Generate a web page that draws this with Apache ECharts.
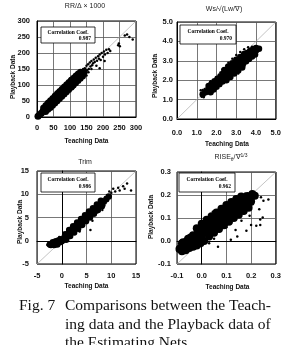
<!DOCTYPE html>
<html><head><meta charset="utf-8">
<script src="https://cdn.jsdelivr.net/npm/echarts@6/dist/echarts.min.js"></script>
<style>html,body{margin:0;padding:0;background:#fff}#c{width:284px;height:345px}</style>
</head><body><div id="c"></div>
<script>
// ---- text ----
const corrLabel = 'Correlation Coef.';
const corrValues = ['0.987', '0.970', '0.986', '0.962'];
const xName = 'Teaching Data';
const yName = 'Playback Data';
const captionLines = ['Comparisons between the Teach-', 'ing data and the Playback data of', 'the Estimating Nets'];
const captionLabel = 'Fig. 7';

// ---- tick values ----
const rrTicks = [0, 50, 100, 150, 200, 250, 300];
const wsTicks = [0, 1, 2, 3, 4, 5];
const trimTicks = [-5, 0, 5, 10, 15];
const riseTicks = [-0.1, 0, 0.1, 0.2, 0.3];

// ---- RR/Δ×1000 ----
const rrCore = [[3,2],[8,7],[13,12],[18,18],[23,22],[28,28],[33,32],[38,38],[43,43],[48,47],[53,53],[58,57],[63,63],[68,67],[73,73],[78,77],[83,83],[88,87],[93,93],[98,97],[103,103],[108,107],[113,113],[118,117],[123,122],[128,127],[133,131],[138,136],[143,141],
 [20,28],[27,36],[34,44],[41,51],[48,58],[55,66],[62,73],[69,80],[76,87],[83,94],[90,101],[97,108],[104,115],[111,121],[118,128],[125,134],[132,140],
 [26,17],[33,24],[40,30],[47,37],[54,44],[61,51],[68,58],[75,65],[82,72],[89,79],[96,86],[103,93],[110,100],[117,107],[124,114],[131,121],[138,128]];
const rrPoints = [[145,152],[148,138],[150,160],[152,146],[155,165],[157,150],[160,170],[162,158],[165,175],[167,162],[170,168],[172,180],[175,172],[178,185],[180,160],[182,176],[185,190],[188,182],[190,195],[193,178],[196,200],[200,188],[203,205],[206,195],[210,210],[214,200],[218,212],[222,206],[150,130],[156,140],[140,150],[135,146],[130,143],[120,130],[112,124],[165,150],[190,152],[205,175],[246,224],[248,230],[251,221],[266,255],[273,258],[290,242],[280,250],[60,80],[70,88],[80,98],[100,120],[110,90],[90,72],[40,24],[125,140]];

// ---- Ws/√(Lw/∇) ----
const wsCore = [[1.3,1.27],[1.45,1.38],[1.6,1.5],[1.75,1.62],[1.9,1.75],[2.05,1.88],[2.2,2.01],[2.35,2.15],[2.5,2.29],[2.65,2.42],[2.8,2.56],[2.95,2.7],[3.1,2.83],[3.25,2.96],[3.4,3.08],[3.55,3.2],[3.7,3.32],[3.85,3.43],[4.0,3.53],[4.15,3.62],
 [1.6,1.7],[1.75,1.82],[1.9,1.95],[2.05,2.08],[2.2,2.21],[2.35,2.35],[2.5,2.49],[2.65,2.62],[2.8,2.76],[2.95,2.9],[3.1,3.03],[3.25,3.16],[3.4,3.28],[3.55,3.4],[3.7,3.5],[3.85,3.6],[4.0,3.66],
 [1.7,1.38],[1.85,1.52],[2.0,1.66],[2.15,1.8],[2.3,1.93],[2.45,2.07],[2.6,2.2],[2.75,2.34],[2.9,2.48],[3.05,2.61],[3.2,2.74],[3.35,2.86],[3.5,2.98],[3.65,3.1],[3.8,3.22],[3.95,3.33],
 [2.4,2.52],[2.6,2.71],[2.8,2.88],[3.0,3.05],[3.2,3.2],[3.4,3.35],[2.5,2.0],[2.7,2.17],[2.9,2.34],[3.1,2.5],[3.3,2.66]];
const wsPoints = [[1.2,1.48],[1.3,1.5],[1.4,1.55],[1.5,1.6],[1.55,1.45],[1.25,1.15],[1.35,1.12],[1.7,1.95],[1.85,2.0],[2.0,2.15],[2.2,2.4],[2.3,2.55],[2.5,2.75],[2.6,2.9],[2.8,3.1],[3.0,3.3],[3.2,3.45],[3.4,3.6],[3.6,3.7],[3.8,3.72],[4.05,3.68],[4.2,3.64],[3.1,2.35],[3.4,2.7],[3.7,3.0],[2.2,1.7],[2.6,2.05],[1.9,1.5],[2.45,1.95],[3.9,3.25]];

// ---- Trim ----
const trimCore = [[-2.4,-0.8],[-2.0,-0.7],[-1.6,-0.6],[-1.2,-0.5],[-0.8,-0.4],[-0.4,-0.3],[0,-0.1],[-1.8,-0.3],[-1.2,-0.1],[-0.6,0.1],[-0.2,0.3],[-2.2,-0.9],[-1.5,-0.9],[-0.9,-0.8],[0.3,0.2],
 [0.5,0.5],[1,1.1],[1.5,1.6],[2,2.1],[2.5,2.6],[3,3.1],[3.5,3.6],[4,4.1],[4.5,4.6],[5,5.0],[5.5,5.5],[6,6.0],[6.5,6.5],[7,7.0],[7.5,7.4],[8,7.9],[8.5,8.4],[9,8.9],[9.5,9.5],
 [0.7,1.4],[1.5,2.3],[2.3,3.1],[3.1,3.9],[3.9,4.7],[4.7,5.5],[5.5,6.3],[6.3,7.0],[7.1,7.8],[7.9,8.6],
 [0.9,0.2],[1.7,1.0],[2.5,1.8],[3.3,2.6],[4.1,3.4],[4.9,4.2],[5.7,5.0],[6.5,5.8],[7.3,6.6],[8.1,7.4]];
const trimPoints = [[10.4,11.2],[11.4,11.4],[12.4,11.7],[12.7,11.2],[14,10.8],[11.7,10.8],[13.2,12.3],[10,10.3],[9.8,9.6],[9.2,9.8],[8.8,9.4],[8.6,7.6],[7.2,6.1],[5.8,2.3],[6.2,4.3],[3.6,2.0],[2.2,3.2],[1.3,2.5],[0.2,1.0],[-0.5,0.8],[-2.8,-0.7],[-2.6,-0.5],[-2.9,-0.9],[4.5,3.2],[7.8,8.9],[9.6,10.6],[10.8,10.6],[8.2,6.6]];

// ---- RISEθ/∇^1/3 ----
const riseCore = [[-0.085,-0.03],[-0.07,-0.02],[-0.055,-0.01],[-0.04,0.002],[-0.025,0.015],[-0.01,0.03],[0.005,0.044],[0.02,0.056],[0.035,0.068],[0.05,0.08],[0.065,0.092],[0.08,0.104],[0.095,0.116],[0.11,0.128],[0.125,0.14],[0.14,0.152],[0.155,0.163],[0.17,0.173],[0.185,0.182],[0.2,0.19],[0.215,0.197],
 [-0.075,-0.005],[-0.055,0.01],[-0.035,0.025],[-0.015,0.04],[0.005,0.064],[0.025,0.08],[0.045,0.096],[0.065,0.112],[0.085,0.128],[0.105,0.144],[0.125,0.16],[0.145,0.174],[0.165,0.186],[0.185,0.196],[0.205,0.204],
 [-0.08,-0.045],[-0.06,-0.033],[-0.04,-0.018],[-0.02,-0.005],[0,0.02],[0.02,0.036],[0.04,0.052],[0.06,0.068],[0.08,0.084],[0.1,0.1],[0.12,0.116],[0.14,0.132],[0.16,0.146],[0.18,0.16],[0.2,0.172],
 [-0.02,0.055],[0.0,0.075],[0.02,0.092],[0.04,0.108],[0.06,0.124],[0.08,0.14],[0.1,0.156],[0.12,0.17],[0.14,0.183],[0.16,0.194],
 [0.03,0.02],[0.05,0.036],[0.07,0.052],[0.09,0.068],[0.11,0.084],[0.13,0.1],[0.15,0.114],[0.17,0.13],[0.19,0.145],
 [-0.09,-0.035],[-0.08,-0.01],[-0.065,-0.04],[-0.05,-0.03],[-0.035,-0.025],[-0.02,-0.02],[-0.005,-0.01],[0.01,0.0],[-0.06,0.0],[-0.045,0.015]];
const risePoints = [[0.206,0.16],[0.233,0.138],[0.194,0.11],[0.247,0.102],[0.221,0.066],[0.148,0.138],[0.161,0.088],[0.181,0.045],[0.27,0.18],[0.237,0.093],[0.237,0.07],[0.2,0.07],[0.144,0.02],[0.137,0.048],[0.118,0.005],[0.066,-0.025],[0.045,0.127],[0.07,0.13],[0.09,0.155],[0.13,0.18],[0.16,0.2],[0.22,0.2],[0.24,0.19],[0.25,0.175],[0.1,0.06],[0.12,0.08],[0.17,0.12],[0.03,-0.01],[0.05,0.01],[-0.095,-0.04],[0.02,0.1],[0.11,0.17],[0.175,0.205],[0.195,0.205]];

// ---- layout / style ----
const SANS = 'Liberation Sans';
const SERIF = 'Liberation Serif';
const panels = [
  {ticks: rrTicks, core: rrCore, pts: rrPoints, dec: 0,
   grid: {left: 37, top: 21, width: 99, height: 96}, xm: 7, ym: 7,
   title: {text: 'RR/Δ × 1000', cx: 85, top: 3},
   box: [41, 27, 54, 16], xnY: 141, ynX: 13, ynY: 77, sym: 7},
  {ticks: wsTicks, core: wsCore, pts: wsPoints, dec: 1,
   grid: {left: 177, top: 22, width: 100, height: 97}, xm: 10, ym: 4,
   title: {text: 'Ws/√(Lw/∇)', cx: 224, top: 6},
   box: [180, 25, 56, 19], xnY: 144, ynX: 155, ynY: 76, sym: 6.5},
  {ticks: trimTicks, core: trimCore, pts: trimPoints, dec: 0,
   grid: {left: 37, top: 171, width: 99, height: 93}, xm: 8, ym: 8,
   title: {text: 'Trim', cx: 85, top: 159},
   box: [41, 173, 54, 19], xnY: 286, ynX: 20, ynY: 222, sym: 6.5},
  {ticks: riseTicks, core: riseCore, pts: risePoints, dec: 1,
   grid: {left: 177, top: 172, width: 101, height: 92}, xm: 8, ym: 6,
   title: {text: '{a|RISE}{s|θ}{a|/∇}{p|1/3}', cx: 231, top: 153},
   box: [179, 173, 56, 19], xnY: 287, ynX: 151, ynY: 217, sym: 8}
];

const grids = [], xAxes = [], yAxes = [], series = [], titles = [], graphics = [];
panels.forEach((p, i) => {
  const lo = p.ticks[0], hi = p.ticks[p.ticks.length - 1];
  const step = +(p.ticks[1] - p.ticks[0]).toFixed(6);
  grids.push(Object.assign({show: true, borderColor: '#000', borderWidth: 1, backgroundColor: '#fff'}, p.grid));
  const fmt = v => (+v).toFixed(p.dec);
  const axisCommon = (margin) => ({
    gridIndex: i, type: 'value', min: lo, max: hi, interval: step,
    axisLine: {show: true, lineStyle: {color: '#000', width: 1}},
    axisTick: {show: false},
    splitLine: {show: true, lineStyle: {color: '#555', width: 0.8}},
    axisLabel: {show: true, margin: margin, interval: 0, hideOverlap: false, formatter: fmt,
      fontFamily: SANS, fontWeight: 'bold', fontSize: 7.5, color: '#111'}
  });
  xAxes.push(axisCommon(p.xm));
  yAxes.push(axisCommon(p.ym));
  series.push({type: 'line', xAxisIndex: i, yAxisIndex: i, data: [[lo, lo], [hi, hi]],
    symbol: 'none', silent: true, z: 1, lineStyle: {color: '#aaa', width: 0.7}});
  series.push({type: 'scatter', xAxisIndex: i, yAxisIndex: i, data: p.core, symbolSize: p.sym,
    itemStyle: {color: '#000', opacity: 1}, z: 3});
  series.push({type: 'scatter', xAxisIndex: i, yAxisIndex: i, data: p.pts, symbolSize: 2.5,
    itemStyle: {color: '#000', opacity: 1}, z: 3});
  titles.push({text: p.title.text, left: p.title.cx, top: p.title.top, textAlign: 'center', padding: 0,
    textStyle: {fontFamily: SANS, fontSize: 7, fontWeight: 'normal', color: '#222',
      rich: {a: {fontFamily: SANS, fontSize: 7, color: '#222'},
             s: {fontFamily: SANS, fontSize: 5, color: '#222', padding: [4, 0, 0, 0]},
             p: {fontFamily: SANS, fontSize: 5, color: '#222', padding: [0, 0, 4, 0]}}}});
  const [bx, by, bw, bh] = p.box;
  graphics.push({type: 'rect', z: 100, shape: {x: bx, y: by, width: bw, height: bh},
    style: {fill: '#fff', stroke: '#000', lineWidth: 0.8}});
  graphics.push({type: 'text', z: 101, x: bx + bw / 2, y: by + bh * 0.32,
    style: {text: corrLabel, font: 'bold 5.5px ' + SERIF, fill: '#000', textAlign: 'center', textVerticalAlign: 'middle'}});
  graphics.push({type: 'text', z: 101, x: bx + bw - 4, y: by + bh * 0.72,
    style: {text: corrValues[i], font: 'bold 5.5px ' + SERIF, fill: '#000', textAlign: 'right', textVerticalAlign: 'middle'}});
  graphics.push({type: 'text', z: 101, x: p.grid.left + p.grid.width / 2, y: p.xnY,
    style: {text: xName, font: 'bold 6.5px ' + SANS, fill: '#111', textAlign: 'center', textVerticalAlign: 'middle'}});
  graphics.push({type: 'text', z: 101, x: p.ynX, y: p.ynY, rotation: Math.PI / 2,
    style: {text: yName, font: 'bold 6.5px ' + SANS, fill: '#111', textAlign: 'center', textVerticalAlign: 'middle'}});
});

graphics.push({type: 'text', z: 101, x: 19, y: 306,
  style: {text: captionLabel, font: '15.5px ' + SERIF, fill: '#111', textAlign: 'left', textVerticalAlign: 'middle'}});
captionLines.forEach((t, k) => {
  graphics.push({type: 'text', z: 101, x: 65, y: 306 + k * 18.5,
    style: {text: t, font: '15.5px ' + SERIF, fill: '#111', textAlign: 'left', textVerticalAlign: 'middle'}});
});

const chart = echarts.init(document.getElementById('c'), null, {renderer: 'canvas'});
chart.setOption({
  animation: false,
  backgroundColor: '#fff',
  title: titles,
  grid: grids,
  xAxis: xAxes,
  yAxis: yAxes,
  series: series,
  graphic: graphics
});
</script></body></html>
